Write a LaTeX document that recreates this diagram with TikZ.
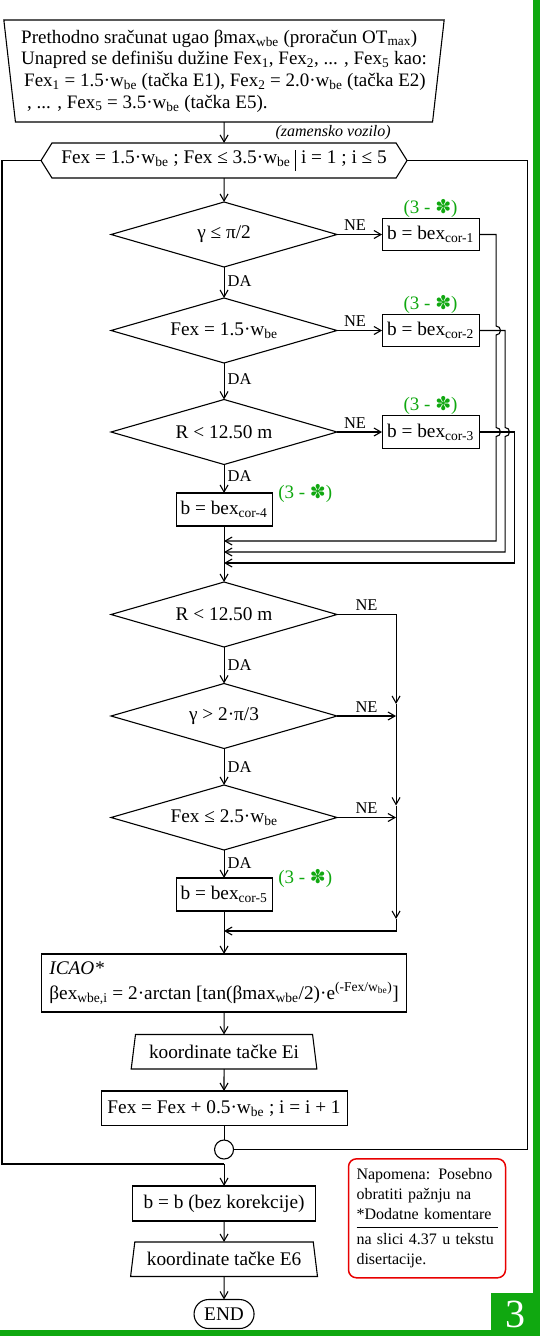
\documentclass[tikz,border=0pt]{standalone}
\usepackage{fontspec}
\setmainfont{Liberation Serif}
\newfontfamily\symfont{DejaVu Sans}
\usetikzlibrary{shapes.geometric, shapes.symbols, shapes.misc, arrows.meta, positioning, calc}
\definecolor{framegreen}{RGB}{16,168,16}
\definecolor{notered}{RGB}{232,0,0}
\newcommand{\subx}[1]{\textsubscript{#1}}
\newcommand{\supx}[1]{\textsuperscript{#1}}
\newcommand{\corref}{(3 - {\symfont ✽})}
\tikzset{
  base/.style={draw=black, line width=1.1pt, font=\fontsize{19.3}{21.7}\selectfont, inner sep=2pt, outer sep=0pt},
  inputbox/.style={base, trapezium, trapezium stretches=true, trapezium left angle=97.5, trapezium right angle=97.5, minimum width=442pt, minimum height=102pt, align=left, font=\fontsize{19}{21.7}\selectfont},
  loopbox/.style={base, signal, signal to=west and east, signal pointer angle=116, minimum width=366pt, minimum height=35pt},
  decision/.style={base, diamond, aspect=3.5, minimum width=226pt, minimum height=65pt, inner sep=0pt},
  process/.style={base, rectangle, minimum height=33pt},
  io/.style={base, trapezium, trapezium stretches=true, trapezium left angle=78, trapezium right angle=78, minimum width=186pt, minimum height=34.5pt},
  terminal/.style={base, rounded rectangle, minimum width=64pt, minimum height=29pt},
  joint/.style={base, circle, minimum size=19pt, inner sep=0pt},
  corlabel/.style={text=framegreen, font=\fontsize{19}{21}\selectfont, inner sep=1pt},
  lab/.style={font=\fontsize{16.5}{18}\selectfont, inner sep=3pt},
  line/.style={line width=1.1pt},
  arrow/.style={line, -{Straight Barb[length=7pt, width=8pt]}},
  notebox/.style={draw=notered, line width=1.5pt, rounded corners=8pt, text width=141pt, minimum height=119pt, inner xsep=8pt, font=\fontsize{16}{20}\selectfont, align=left},
  pagebox/.style={fill=framegreen, text=white, minimum width=49pt, minimum height=43pt, inner sep=0pt, font=\fontsize{40}{40}\selectfont}
}
\begin{document}
\begin{tikzpicture}
  \useasboundingbox (0,0) rectangle (540pt,-1336pt);

  % frame
  \fill[framegreen] (533pt,0) rectangle (540pt,-1336pt);
  \fill[framegreen] (0,-1330pt) rectangle (540pt,-1336pt);
  \node (pagenum) [pagebox] at (515.5pt,-1314.5pt) {3};

  % main column
  \node (input) [inputbox] at (224pt,-71pt) {Prethodno sračunat ugao βmax\subx{wbe} (proračun OT\subx{max})\\
    Unapred se definišu dužine Fex\subx{1}, Fex\subx{2}, ... , Fex\subx{5} kao:\\
    \hspace*{3pt}Fex\subx{1} = 1.5·w\subx{be} (tačka E1), Fex\subx{2} = 2.0·w\subx{be} (tačka E2)\\
    \hspace*{6pt}, ... , Fex\subx{5} = 3.5·w\subx{be} (tačka E5).};
  \node (loop) [loopbox, below=21pt of input] {Fex = 1.5·w\subx{be} ; Fex ≤ 3.5·w\subx{be} \rule[-8pt]{0.9pt}{21pt} i = 1 ; i ≤ 5};
  \node (dec1) [decision, below=24pt of loop] {γ ≤ π/2};
  \node (dec2) [decision, below=31pt of dec1] {Fex = 1.5·w\subx{be}};
  \node (dec3) [decision, below=36.5pt of dec2] {R < 12.50 m};
  \node (cor4) [process, below=28.5pt of dec3, minimum width=96pt] {b = bex\subx{cor-4}};
  \node (dec4) [decision, below=56pt of cor4] {R < 12.50 m};
  \node (dec5) [decision, below=36.5pt of dec4] {γ > 2·π/3};
  \node (dec6) [decision, below=36.5pt of dec5] {Fex ≤ 2.5·w\subx{be}};
  \node (cor5) [process, below=28pt of dec6, minimum width=96pt] {b = bex\subx{cor-5}};
  \node (icao) [process, below=43pt of cor5, minimum width=365pt, minimum height=58pt, align=left, inner xsep=8pt] {\textit{ICAO*}\\[3pt]
    βex\subx{wbe,i} = 2·arctan [tan(βmax\subx{wbe}/2)·e\supx{(-Fex/w\subx{be})}]};
  \node (coords) [io, below=22.5pt of icao] {koordinate tačke Ei};
  \node (update) [process, below=22pt of coords, minimum width=246pt, minimum height=34.5pt] {Fex = Fex + 0.5·w\subx{be} ; i = i + 1};
  \node (join) [joint, below=14.5pt of update] {};
  \coordinate [below=5pt of join] (exit);
  \node (nocor) [process, below=27pt of join, minimum width=183pt, minimum height=35pt] {b = b (bez korekcije)};
  \node (coordsE6) [io, below=21pt of nocor, minimum width=187pt] {koordinate tačke E6};
  \node (finish) [terminal, below=23pt of coordsE6] {END};

  % side boxes
  \node (cor1) [process, right=45pt of dec1, minimum width=97pt, minimum height=32.5pt] {b = bex\subx{cor-1}};
  \node (cor2) [process, right=45pt of dec2, minimum width=97pt, minimum height=32.5pt] {b = bex\subx{cor-2}};
  \node (cor3) [process, right=45pt of dec3, minimum width=97pt, minimum height=32.5pt] {b = bex\subx{cor-3}};
  \node [corlabel, above=0pt of cor1] {\corref};
  \node [corlabel, above=0pt of cor2] {\corref};
  \node [corlabel, above=0pt of cor3] {\corref};
  \node [corlabel, right=5pt of cor4.north east] {\corref};
  \node [corlabel, right=5pt of cor5.north east] {\corref};

  \coordinate [below=15pt of cor4.south] (m1);
  \coordinate [below=26pt of cor4.south] (m2);
  \coordinate [below=37pt of cor4.south] (m3);
  \coordinate [below=20pt of cor5.south] (m5);

  \node (note) [notebox] at (427pt,-1218.3pt) {%
    \makebox[\linewidth][s]{Napomena: Posebno}\\
    \makebox[\linewidth][s]{obratiti pažnju na}\\
    \underline{\makebox[\linewidth][s]{\strut *Dodatne komentare}}\\[5pt]
    \makebox[\linewidth][s]{na slici 4.37 u tekstu}\\
    disertacije.};

  % connectors
  \draw [arrow] (input) -- node[lab, right=48pt, font=\fontsize{16}{18}\selectfont] {\textit{(zamensko vozilo)}} (loop);
  \draw [arrow] (loop) -- (dec1);
  \draw [arrow] (dec1) -- node[lab, right, pos=0.45] {DA} (dec2);
  \draw [arrow] (dec2) -- node[lab, right, pos=0.45] {DA} (dec3);
  \draw [arrow] (dec3) -- node[lab, right, pos=0.4] {DA} (cor4);
  \draw [arrow] (dec1) -- node[lab, above, pos=0.4] {NE} (cor1);
  \draw [arrow] (dec2) -- node[lab, above, pos=0.4] {NE} (cor2);
  \draw [arrow] (dec3) -- node[lab, above, pos=0.4] {NE} (cor3);
  \draw [arrow] (cor1.east) -- ++(17pt,0) coordinate (v1)
    -- ($(v1 |- cor2.east)+(0,4.5pt)$) arc[start angle=90, end angle=-90, radius=4.5pt]
    -- ($(v1 |- cor3.east)+(0,4.5pt)$) arc[start angle=90, end angle=-90, radius=4.5pt]
    -- (v1 |- m1) -- (m1);
  \draw [arrow] (cor2.east) -- ++(26pt,0) coordinate (v2)
    -- ($(v2 |- cor3.east)+(0,4.5pt)$) arc[start angle=90, end angle=-90, radius=4.5pt]
    -- (v2 |- m2) -- (m2);
  \draw [arrow] (cor3.east) -- ++(35pt,0) coordinate (v3) -- (v3 |- m3) -- (m3);
  \draw [arrow] (cor4) -- (dec4);
  \draw [arrow] (dec4) -- node[lab, right] {DA} (dec5);
  \draw [arrow] (dec5) -- node[lab, right] {DA} (dec6);
  \draw [arrow] (dec6) -- node[lab, right, pos=0.45] {DA} (cor5);
  \draw [arrow] (dec4.east) -- node[lab, above] {NE} ++(59pt,0) coordinate (n4) -- ($(n4 |- dec5.east)+(0,12pt)$);
  \draw [arrow] ($(n4 |- dec5.east)+(0,12pt)$) -- ($(n4 |- dec6.east)+(0,12pt)$);
  \draw [arrow] ($(n4 |- dec6.east)+(0,12pt)$) -- ($(n4 |- m5)+(0,12pt)$);
  \draw [arrow] ($(n4 |- m5)+(0,12pt)$) -- (n4 |- m5) -- (m5);
  \draw [arrow] (dec5.east) -- node[lab, above] {NE} (n4 |- dec5.east);
  \draw [arrow] (dec6.east) -- node[lab, above] {NE} (n4 |- dec6.east);
  \draw [arrow] (cor5) -- (icao);
  \draw [arrow] (icao) -- (coords);
  \draw [arrow] (coords) -- (update);
  \draw [line] (update) -- (join);
  \draw [line] (join.east) -| ($(loop.east)+(120pt,0)$) -- (loop.east);
  \draw [line] (loop.west) -- ++(-39pt,0) |- (exit);
  \draw [arrow] (exit) -- (nocor);
  \draw [arrow] (nocor) -- (coordsE6);
  \draw [arrow] (coordsE6) -- (finish);

\end{tikzpicture}
\end{document}
